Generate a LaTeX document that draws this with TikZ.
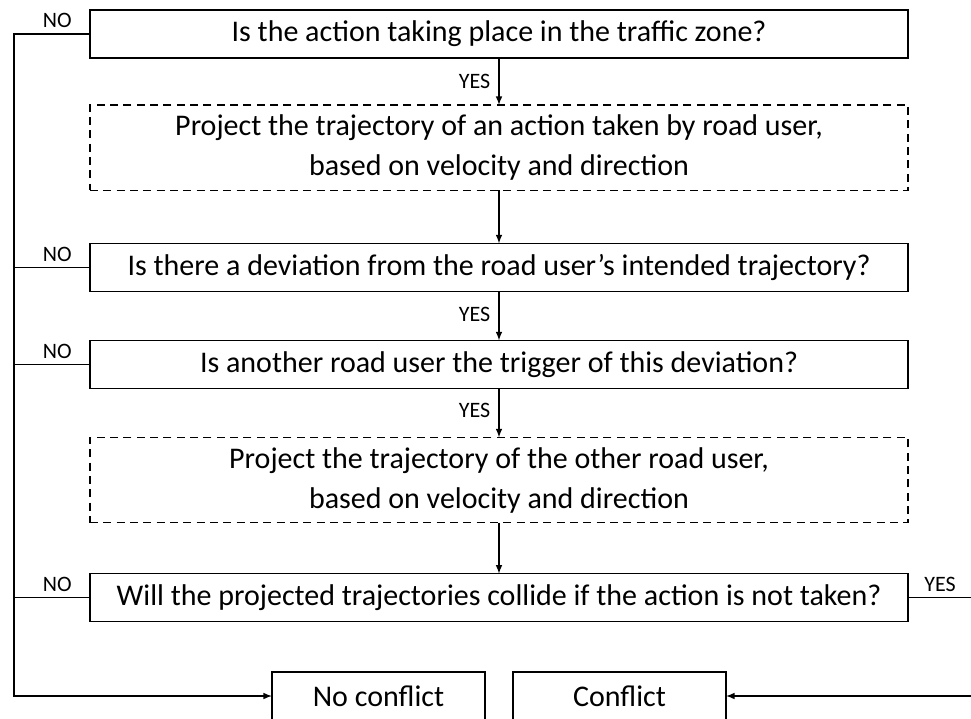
\documentclass[tikz,border=0pt]{standalone}
\usepackage{fontspec}
\setmainfont{Carlito}
\usetikzlibrary{arrows, positioning}

\begin{document}
\begin{tikzpicture}[-latex, line width=1.2pt,
        box/.style={draw, rectangle, inner sep=0pt, outer sep=0pt, minimum width=613.5pt, minimum height=36pt, align=center, font=\fontsize{22.5}{30}\selectfont},
        dbox/.style={box, dash pattern=on 6pt off 4pt, minimum height=64pt},
        lbl/.style={font=\fontsize{16.5}{18}\selectfont, inner sep=4pt}]
    \useasboundingbox (0,0) rectangle (728.25pt,-538.5pt);
    \coordinate (left) at (10.5pt,0);
    \coordinate (right) at (731.25pt,0);
    % \tikzstyle{every node}=[box]
    \node[box] (zone) at (374.25pt,-25.5pt) {Is the action taking place in the traffic zone?};
    \node[dbox] (proj1) [below = 35.25pt of zone] {Project the trajectory of an action taken by road user,\\based on velocity and direction};
    \node[box] (dev) [below = 39.75pt of proj1] {Is there a deviation from the road user’s intended trajectory?};
    \node[box] (trig) [below = 36.75pt of dev] {Is another road user the trigger of this deviation?};
    \node[dbox] (proj2) [below = 36.75pt of trig] {Project the trajectory of the other road user,\\based on velocity and direction};
    \node[box] (coll) [below = 38.25pt of proj2] {Will the projected trajectories collide if the action is not taken?};
    \node[box, minimum width=159.75pt] (noconf) at (283.875pt,-522pt) {No conflict};
    \node[box, minimum width=159.75pt] (conf) [right = 21pt of noconf] {Conflict};

    \path (zone) edge node[lbl, left, inner sep=6pt] {YES} (proj1);
    \path (proj1) edge (dev);
    \path (dev) edge node[lbl, left, inner sep=6pt, pos=0.47] {YES} (trig);
    \path (trig) edge node[lbl, left, inner sep=6pt, pos=0.45] {YES} (proj2);
    \path (proj2) edge (coll);

    \draw (zone.west) -- node[lbl, above, pos=0.43] {NO} (zone.west -| left) |- (noconf.west);
    \draw[-] (dev.west) -- node[lbl, above, pos=0.43] {NO} (dev.west -| left);
    \draw[-] (trig.west) -- node[lbl, above, pos=0.43] {NO} (trig.west -| left);
    \draw[-] (coll.west) -- node[lbl, above, pos=0.43] {NO} (coll.west -| left);
    \draw (coll.east) -- node[lbl, above, pos=0.48] {YES} (coll.east -| right) |- (conf.east);
\end{tikzpicture}
\end{document}
